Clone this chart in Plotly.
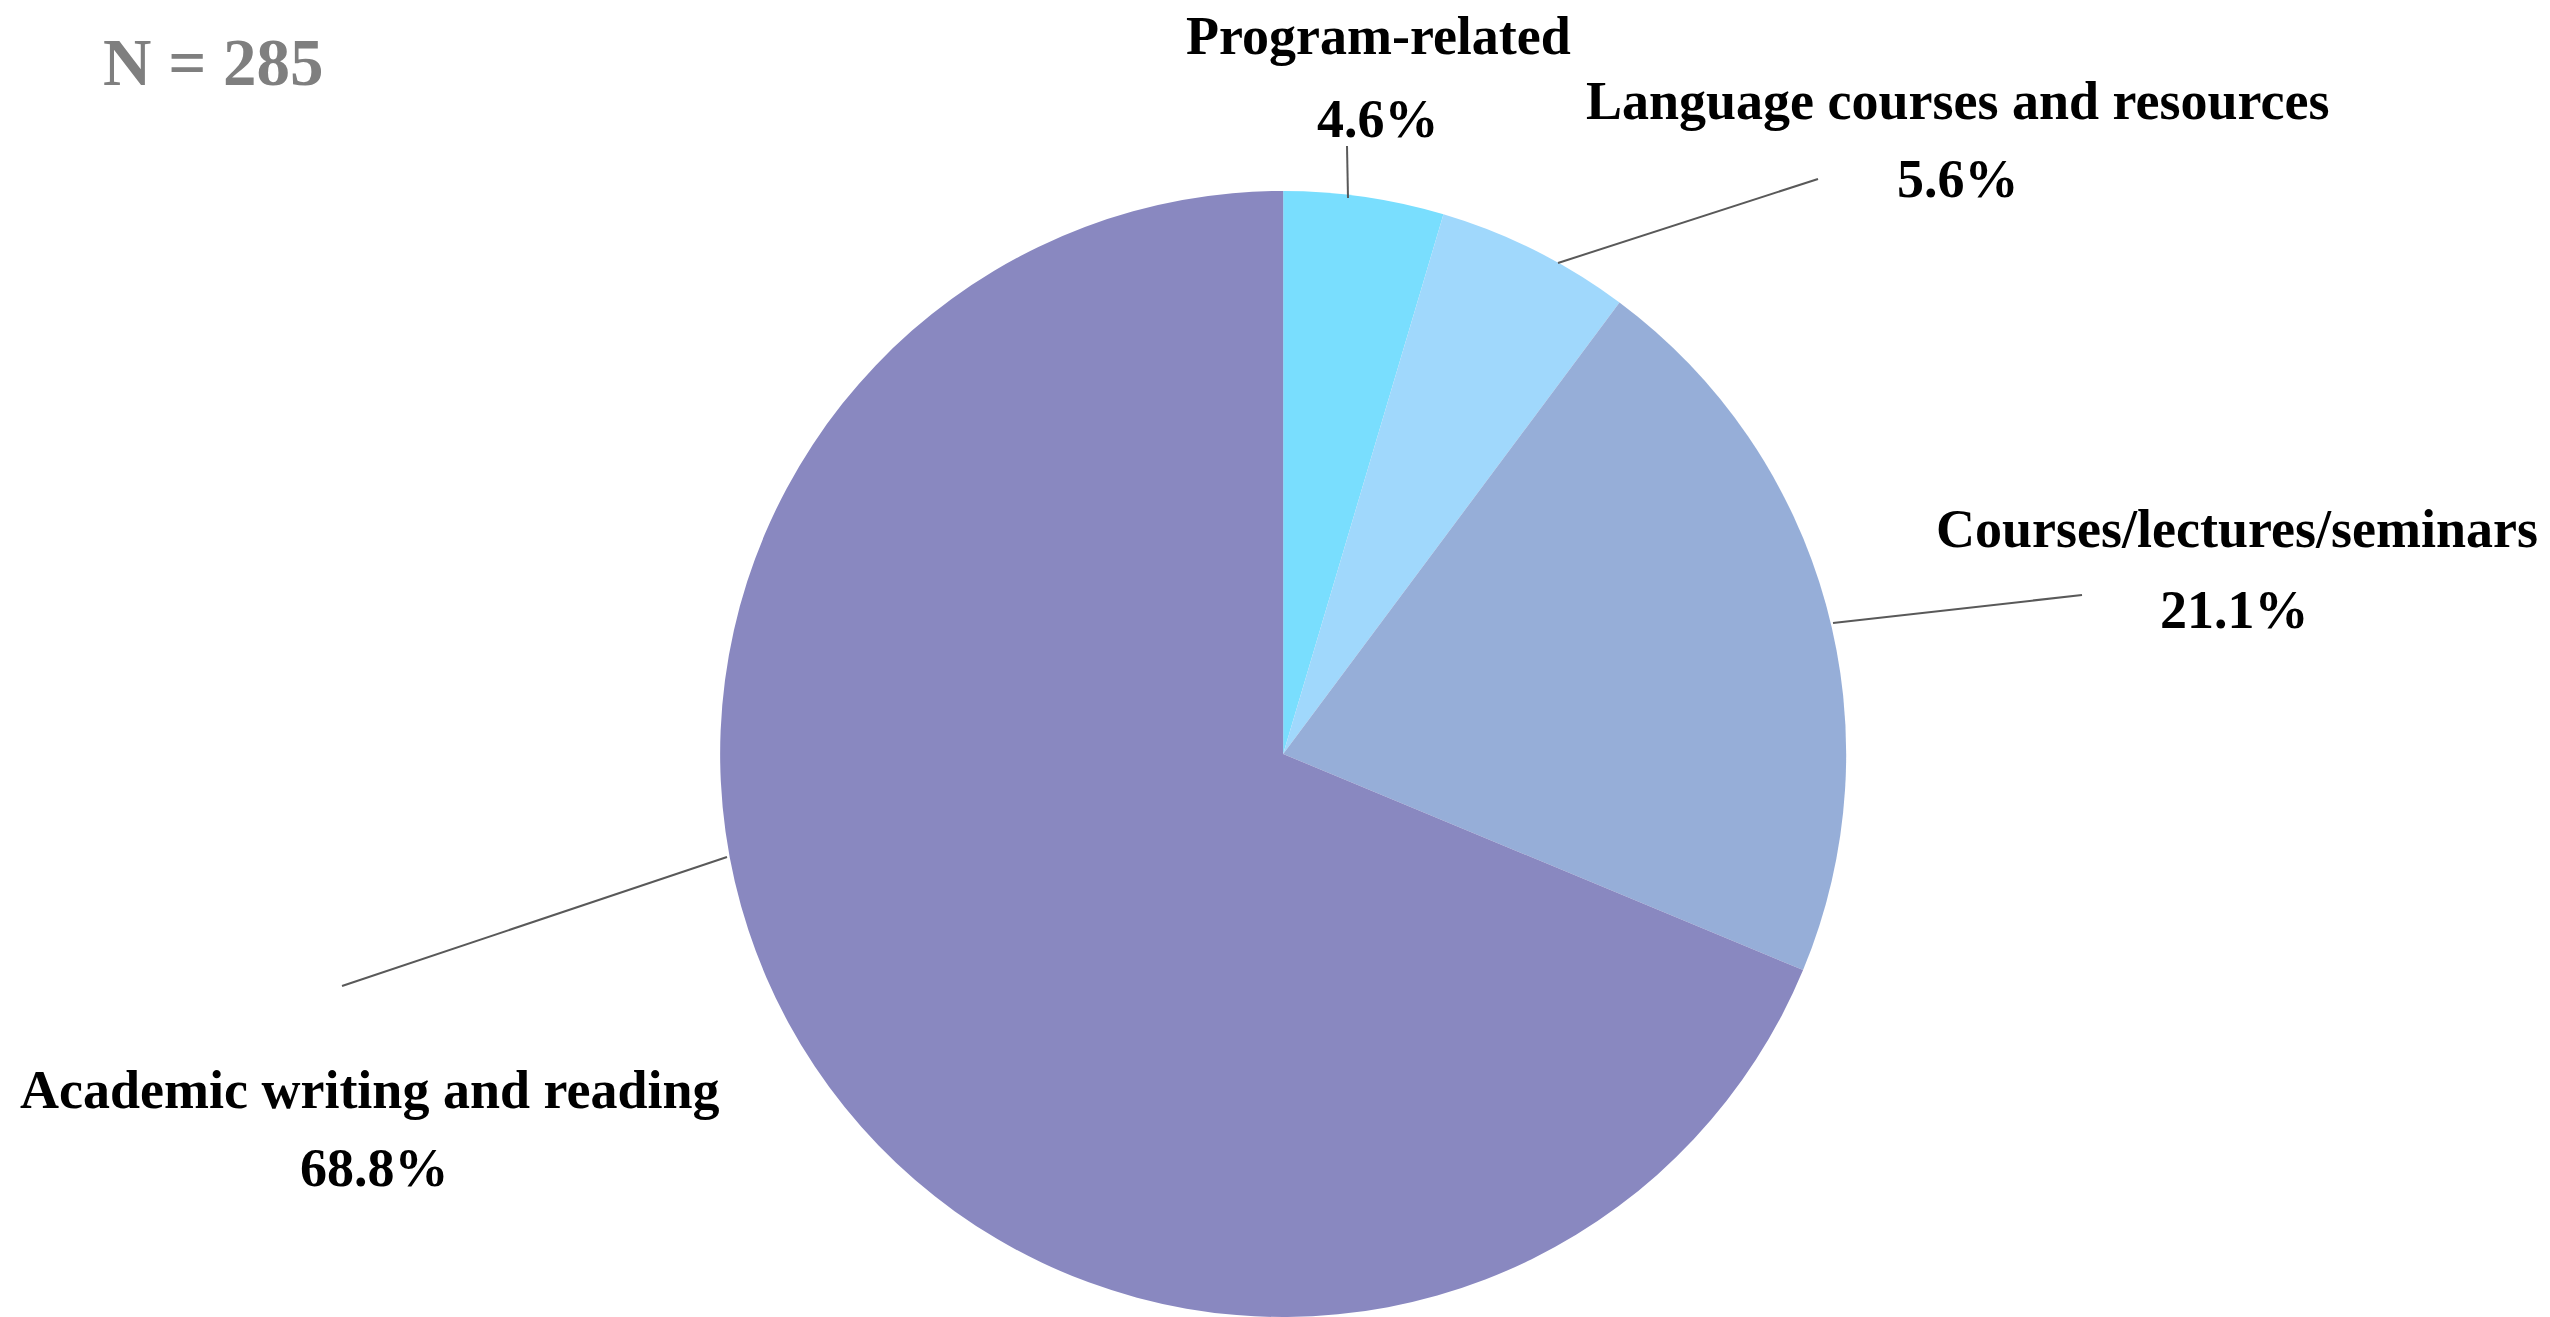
import plotly.graph_objects as go

# Survey responses grouped by category (share of respondents, %)
categories = [
    "Program-related",
    "Language courses and resources",
    "Courses/lectures/seminars",
    "Academic writing and reading",
]
shares = [4.6, 5.6, 21.1, 68.8]
sample_note = "N = 285"

slice_colors = ["#79DEFE", "#A0D8FC", "#96AED8", "#8988C0"]

W, H = 2550, 1317

# Label centres (pixels) for category name and percentage, plus leader lines
name_pos = [(1378, 36), (1958, 101), (2237, 529), (370, 1090)]
pct_pos = [(1378, 119), (1958, 179), (2234, 610), (374, 1168)]
leaders = [
    ((1347, 146), (1348, 198)),
    ((1818, 179), (1558, 263)),
    ((2082, 595), (1833, 623)),
    ((342, 986), (727, 857)),
]


def px(x, y):
    return x / W, 1 - y / H


fig = go.Figure(
    go.Pie(
        labels=categories,
        values=shares,
        sort=False,
        direction="clockwise",
        rotation=0,
        textinfo="none",
        hoverinfo="label+percent",
        marker=dict(colors=slice_colors, line=dict(width=0)),
        domain=dict(x=[0.2824, 0.7240], y=[0.0, 0.855]),
        showlegend=False,
    )
)

label_font = dict(family="Liberation Serif, Times New Roman, serif", size=54, color="#000000")
annotations = []
for cat, val, npos, ppos in zip(categories, shares, name_pos, pct_pos):
    x, y = px(*npos)
    annotations.append(dict(text=f"<b>{cat}</b>", x=x, y=y, xref="paper", yref="paper",
                            xanchor="center", yanchor="middle", showarrow=False, font=label_font))
    x, y = px(*ppos)
    annotations.append(dict(text=f"<b>{val:.1f}%</b>", x=x, y=y, xref="paper", yref="paper",
                            xanchor="center", yanchor="middle", showarrow=False, font=label_font))

nx, ny = px(213, 62)
annotations.append(dict(text=f"<b>{sample_note}</b>", x=nx, y=ny, xref="paper", yref="paper",
                        xanchor="center", yanchor="middle", showarrow=False,
                        font=dict(family="Liberation Serif, Times New Roman, serif", size=67,
                                  color="#7F7F7F")))

shapes = []
for (x0, y0), (x1, y1) in leaders:
    a0, b0 = px(x0, y0)
    a1, b1 = px(x1, y1)
    shapes.append(dict(type="line", xref="paper", yref="paper", x0=a0, y0=b0, x1=a1, y1=b1,
                       line=dict(color="#595959", width=2)))

fig.update_layout(
    width=W,
    height=H,
    margin=dict(l=0, r=0, t=0, b=0),
    paper_bgcolor="#FFFFFF",
    plot_bgcolor="#FFFFFF",
    annotations=annotations,
    shapes=shapes,
)

fig.write_html("out.html")
